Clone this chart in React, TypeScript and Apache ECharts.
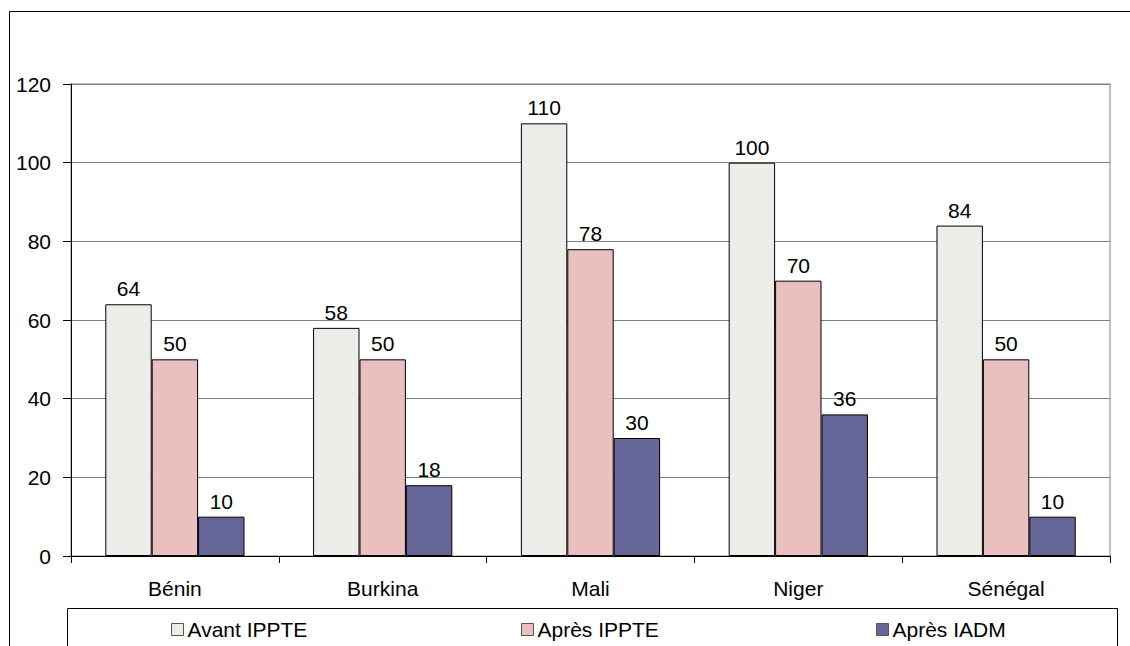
import React, { useEffect, useRef } from "react";
import * as echarts from "echarts";

const categories = ["Bénin", "Burkina", "Mali", "Niger", "Sénégal"];
const avantIPPTE = [64, 58, 110, 100, 84];
const apresIPPTE = [50, 50, 78, 70, 50];
const apresIADM = [10, 18, 30, 36, 10];
const seriesNames = ["Avant IPPTE", "Après IPPTE", "Après IADM"];
const seriesColors = ["#ECECE9", "#E9C0BF", "#666699"];
const legendLefts = [171, 521, 876];

const FONT = "'Liberation Sans', Arial, sans-serif";
const FS = 21;

export default function App() {
  const ref = useRef<HTMLDivElement>(null);
  useEffect(() => {
    document.body.style.margin = "0";
    document.body.style.overflow = "hidden";
    const chart = echarts.init(ref.current!, null, { renderer: "svg" });
    const data = [avantIPPTE, apresIPPTE, apresIADM];
    chart.setOption({
      animation: false,
      backgroundColor: "#ffffff",
      textStyle: { fontFamily: FONT },
      grid: {
        left: 71,
        top: 84,
        right: 20,
        bottom: 90,
        show: true,
        borderColor: "#808080",
        borderWidth: 1,
      },
      xAxis: {
        type: "category",
        data: categories,
        axisLine: { lineStyle: { color: "#000", width: 1 } },
        axisTick: { show: true, length: 7, lineStyle: { color: "#000" } },
        axisLabel: { color: "#000", fontSize: FS, fontFamily: FONT, margin: 22 },
      },
      yAxis: {
        type: "value",
        min: 0,
        max: 120,
        interval: 20,
        axisLine: { show: true, lineStyle: { color: "#000", width: 1 } },
        axisTick: { show: true, length: 8, lineStyle: { color: "#000" } },
        axisLabel: { color: "#000", fontSize: FS, fontFamily: FONT, margin: 20 },
        splitLine: { show: true, lineStyle: { color: "#808080", width: 1 } },
      },
      legend: seriesNames.map((n, i) => ({
        data: [n],
        left: legendLefts[i],
        top: 619,
        padding: 0,
        itemWidth: 12,
        itemHeight: 12,
        itemGap: 0,
        icon: "rect",
        selectedMode: false,
        itemStyle: { borderColor: "#555", borderWidth: 1 },
        textStyle: { fontSize: FS, color: "#000", fontFamily: FONT, padding: [0, 0, 0, -1] },
      })),
      graphic: [
        {
          type: "polyline",
          shape: { points: [[9.5, 700], [9.5, 11.5], [1200, 11.5]] },
          style: { fill: "none", stroke: "#000", lineWidth: 1 },
          silent: true,
          z: 100,
        },
        {
          type: "polyline",
          shape: { points: [[67.5, 700], [67.5, 608.5], [1117.5, 608.5], [1117.5, 700]] },
          style: { fill: "none", stroke: "#000", lineWidth: 1 },
          silent: true,
          z: 100,
        },
      ],
      series: seriesNames.map((n, i) => ({
        name: n,
        type: "bar",
        data: data[i],
        barGap: "0%",
        barCategoryGap: "33%",
        itemStyle: { color: seriesColors[i], borderColor: "#000", borderWidth: 1 },
        label: {
          show: true,
          position: "top",
          distance: 5,
          color: "#000",
          fontSize: FS,
          fontFamily: FONT,
        },
      })),
    });
    return () => chart.dispose();
  }, []);
  return <div ref={ref} style={{ width: 1130, height: 646 }} />;
}
